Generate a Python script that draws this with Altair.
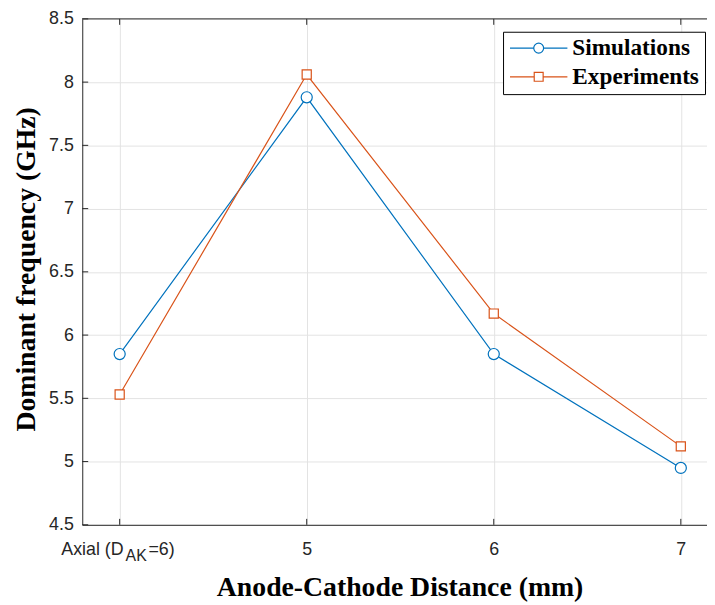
import altair as alt
import pandas as pd

# ---- data ----
categories = ["Axial (D_AK=6)", "5", "6", "7"]
positions = [1, 2, 3, 4]
x_tick_labels = ["", "5", "6", "7"]
axial_label_parts = ["Axial (D", "AK", "=6)"]
series_names = ["Simulations", "Experiments"]
series_colors = ["#0072BD", "#D95319"]
simulations = [5.85, 7.88, 5.85, 4.95]
experiments = [5.53, 8.06, 6.17, 5.12]
y_ticks = [4.5, 5, 5.5, 6, 6.5, 7, 7.5, 8, 8.5]

W, H = 631, 511

rows = []
for s, vals in zip(series_names, [simulations, experiments]):
    for p, c, v in zip(positions, categories, vals):
        rows.append({"series": s, "pos": p, "category": c, "value": v})
df = pd.DataFrame(rows)

xscale = alt.Scale(domain=[0.8, 4.14], nice=False, zero=False)
yscale = alt.Scale(domain=[4.5, 8.5], nice=False, zero=False)

label_expr = "[" + ",".join("'" + t + "'" for t in x_tick_labels) + "][datum.value-1]"

x_axis = alt.Axis(
    values=positions, labelExpr=label_expr, grid=True, ticks=False, tickSize=0,
    title="Anode-Cathode Distance (mm)", titleX=320.5, titleY=71,
    titleAlign="center", titleBaseline="alphabetic",
    labelBaseline="alphabetic", labelPadding=30, labelAlign="center",
)
y_axis = alt.Axis(
    values=y_ticks, format=".1~f", grid=True, ticks=False, tickSize=0,
    title="Dominant frequency (GHz)", titleX=-48, titleY=252.5,
    titleAlign="center", titleBaseline="alphabetic", titleAngle=-90,
    labelPadding=9, labelBaseline="middle",
)


def X():
    return alt.X("pos:Q", scale=xscale, axis=x_axis)


def Y():
    return alt.Y("value:Q", scale=yscale, axis=y_axis)


base = alt.Chart(df)

layers = []
shapes = ["circle", "square"]
sizes = [125, 85]
for s, col in zip(series_names, series_colors):
    layers.append(
        base.transform_filter(alt.datum.series == s).mark_line(
            color=col, strokeWidth=1.2, opacity=1
        ).encode(x=X(), y=Y())
    )
for s, col, shp, sz in zip(series_names, series_colors, shapes, sizes):
    layers.append(
        base.transform_filter(alt.datum.series == s).mark_point(
            shape=shp, size=sz, stroke=col, fill="white", filled=False,
            strokeWidth=1.2, opacity=1
        ).encode(x=X(), y=Y())
    )

# legend carrier: custom symbol paths (line + marker)
r = 5 / 29
q = 4.5 / 29
circle_path = (f"M-1,0H{-r:.4f}M{r:.4f},0H1M{r:.4f},0A{r:.4f},{r:.4f},0,1,1,{-r:.4f},0"
               f"A{r:.4f},{r:.4f},0,1,1,{r:.4f},0Z")
square_path = (f"M-1,0H{-q:.4f}M{q:.4f},0H1M{-q:.4f},{-q:.4f}H{q:.4f}V{q:.4f}H{-q:.4f}Z")

legend = alt.Legend(
    orient="none", legendX=425, legendY=13, title=None,
    strokeColor="black", fillColor="white", padding=6,
    labelFont="Liberation Serif", labelFontWeight="bold", labelFontSize=23.5,
    labelColor="black", labelOffset=4, labelLimit=400,
    symbolSize=3364, symbolStrokeWidth=1.2, symbolFillColor="white",
    symbolOpacity=1, clipHeight=21, rowPadding=5,
)
layers.append(
    base.mark_point(opacity=0, filled=False).encode(
        x=X(), y=Y(),
        color=alt.Color("series:N", scale=alt.Scale(domain=series_names, range=series_colors), legend=legend),
        shape=alt.Shape("series:N", scale=alt.Scale(domain=series_names, range=[circle_path, square_path]), legend=legend),
    )
)

# inward tick marks
yt = alt.Chart(pd.DataFrame({"value": y_ticks}))
layers.append(
    yt.mark_rule(color="#262626", strokeWidth=1).encode(
        y=Y(), x=alt.value(0), x2=alt.value(6)
    )
)
xt = alt.Chart(pd.DataFrame({"pos": positions}))
layers.append(
    xt.mark_rule(color="#262626", strokeWidth=1).encode(
        x=X(), y=alt.value(H), y2=alt.value(H - 6)
    )
)
layers.append(
    xt.mark_rule(color="#262626", strokeWidth=1).encode(
        x=X(), y=alt.value(0), y2=alt.value(6)
    )
)
# top border
layers.append(
    alt.Chart(pd.DataFrame({"a": [0]})).mark_rule(color="#262626", strokeWidth=1).encode(
        x=alt.value(0), x2=alt.value(W), y=alt.value(0)
    )
)

# first category label with subscript
lab = alt.Chart(pd.DataFrame({"pos": [positions[0]], "t0": [axial_label_parts[0]],
                              "t1": [axial_label_parts[1]], "t2": [axial_label_parts[2]]}))
layers.append(
    lab.mark_text(align="right", baseline="alphabetic", dx=4, font="Liberation Sans",
                  fontSize=18, color="#262626").encode(
        x=X(), y=alt.value(H + 30), text="t0:N")
)
layers.append(
    lab.mark_text(align="left", baseline="alphabetic", dx=6, font="Liberation Sans",
                  fontSize=16, color="#262626").encode(
        x=X(), y=alt.value(H + 37), text="t1:N")
)
layers.append(
    lab.mark_text(align="left", baseline="alphabetic", dx=29, font="Liberation Sans",
                  fontSize=18, color="#262626").encode(
        x=X(), y=alt.value(H + 30), text="t2:N")
)

chart = alt.layer(*layers).properties(
    width=W, height=H,
    autosize=alt.AutoSizeParams(type="none"),
    padding={"left": 75, "top": 8, "right": 0, "bottom": 77},
    background="white",
).configure_view(stroke=None).configure_axis(
    labelFont="Liberation Sans", labelFontSize=18, labelColor="#262626",
    titleFont="Liberation Serif", titleFontWeight="bold", titleFontSize=28, titleColor="black",
    domainColor="#262626", domainWidth=1, gridColor="#e3e3e3", gridWidth=1,
)

chart.save("out.html", embed_options={"renderer": "svg", "actions": False})
